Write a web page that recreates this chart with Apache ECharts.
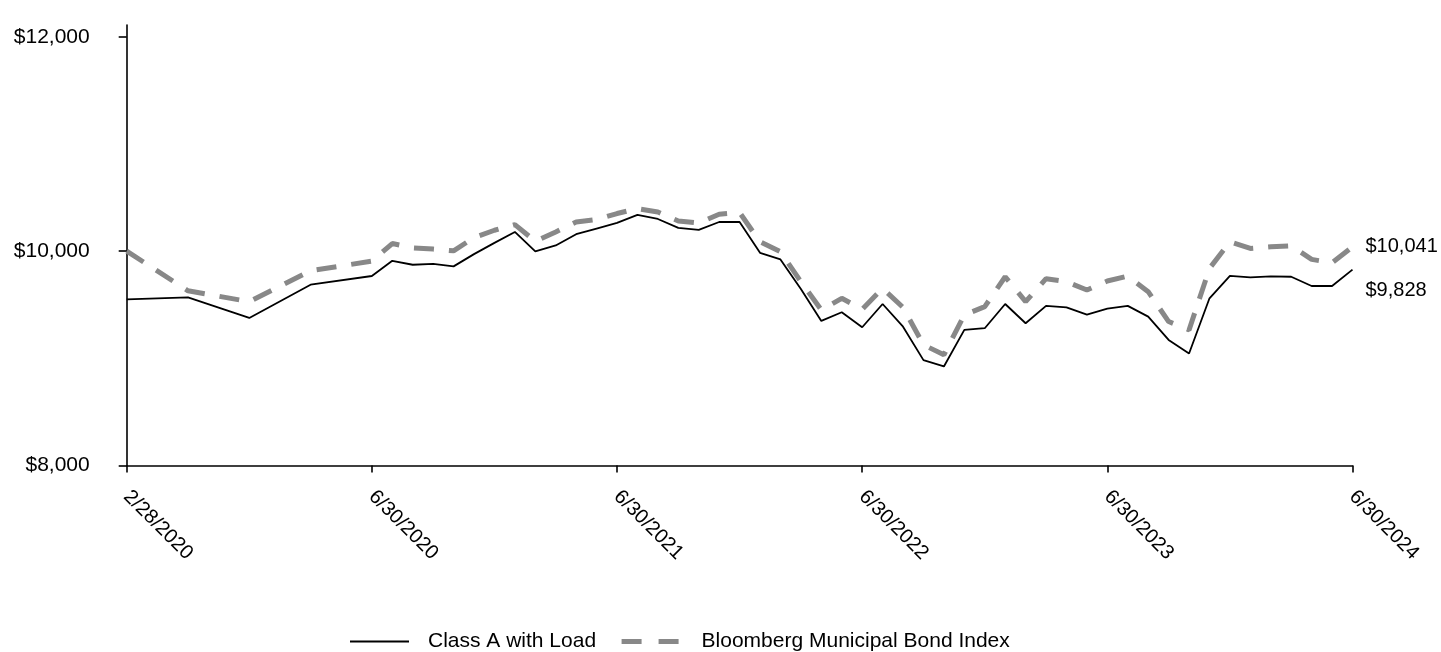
<!DOCTYPE html>
<html>
<head>
<meta charset="utf-8">
<script src="https://cdn.jsdelivr.net/npm/echarts@6/dist/echarts.min.js"></script>
<style>
  html, body { margin: 0; padding: 0; background: #fff; }
  #chart { width: 1441px; height: 652px; }
</style>
</head>
<body>
<div id="chart"></div>
<script>
// ---- data ----
const tickLabels = ['2/28/2020', '6/30/2020', '6/30/2021', '6/30/2022', '6/30/2023', '6/30/2024'];
const startMonth = '2020-02';
const endMonth = '2024-06';
const seriesNames = ['Class A with Load', 'Bloomberg Municipal Bond Index'];
const classA = [
  9550, 9569, 9377, 9687, 9768,
  9910, 9873, 9882, 9858, 9972, 10077, 10179, 9997, 10053, 10158, 10211, 10263,
  10338, 10300, 10217, 10198, 10272, 10272, 9984, 9923, 9647, 9349, 9430, 9290,
  9507, 9295, 8983, 8924, 9265, 9281, 9507, 9327, 9489, 9476, 9408, 9463,
  9489, 9389, 9172, 9045, 9560, 9770, 9755, 9765, 9761, 9675, 9675, 9828
];
const muniIndex = [
  10000, 9630, 9529, 9817, 9907,
  10071, 10031, 10019, 10003, 10127, 10195, 10248, 10093, 10179, 10272, 10295, 10351,
  10397, 10365, 10282, 10263, 10344, 10360, 10087, 9994, 9715, 9451, 9560, 9458,
  9653, 9475, 9126, 9033, 9405, 9482, 9761, 9529, 9743, 9715, 9637, 9721,
  9767, 9622, 9343, 9265, 9839, 10087, 10025, 10040, 10050, 9923, 9891, 10041
];
const yTicks = [8000, 10000, 12000];

// ---- helpers ----
function monthNum(s) { const p = s.split('-'); return (+p[0]) * 12 + (+p[1] - 1); }
function labelMonth(l) { const p = l.split('/'); return (+p[2]) * 12 + (+p[0] - 1); }
const tickM = tickLabels.map(labelMonth);
const m0 = monthNum(startMonth), m1 = monthNum(endMonth);
const monthsIdx = [];
for (let m = m0; m <= m1; m++) monthsIdx.push(m);
// place a month on the axis: ticks are equally spaced, months spread evenly between ticks
function xPos(m) {
  for (let i = 0; i < tickM.length - 1; i++) {
    if (m >= tickM[i] && m <= tickM[i + 1]) return i + (m - tickM[i]) / (tickM[i + 1] - tickM[i]);
  }
  return tickM.length - 1;
}
const fmt = v => '$' + Math.round(v).toLocaleString('en-US');
const font = 'Liberation Sans, Arial, Helvetica, sans-serif';

const chart = echarts.init(document.getElementById('chart'), null, { renderer: 'canvas' });
chart.setOption({
  animation: false,
  backgroundColor: '#ffffff',
  textStyle: { fontFamily: font },
  grid: { left: 126.7, right: 88.5, top: 25, bottom: 186.5, containLabel: false, outerBoundsMode: 'none' },
  legend: {
    left: 349,
    top: 631,
    padding: 0,
    itemWidth: 59,
    itemHeight: 14,
    itemGap: 23,
    textStyle: { fontSize: 21, color: '#000', fontFamily: font },
    itemStyle: { opacity: 0 },
    data: [
      { name: seriesNames[0], textStyle: { padding: [0, 0, 0, 14] }, lineStyle: { width: 2, color: '#000' } },
      { name: seriesNames[1], textStyle: { padding: [0, 0, 0, 16] }, lineStyle: { width: 5, color: '#888888', type: [20, 17] } }
    ]
  },
  xAxis: {
    type: 'value',
    min: 0,
    max: tickLabels.length - 1,
    interval: 1,
    splitLine: { show: false },
    axisLine: { show: true, lineStyle: { color: '#000', width: 1.6 } },
    axisTick: { show: true, inside: false, length: 7, lineStyle: { color: '#000', width: 1.6 } },
    axisLabel: {
      rotate: -45,
      margin: 28,
      fontSize: 20,
      color: '#000',
      fontFamily: font,
      showMinLabel: true,
      showMaxLabel: true,
      formatter: v => tickLabels[Math.round(v)] || ''
    }
  },
  yAxis: {
    type: 'value',
    min: 8000,
    max: 12110,
    splitLine: { show: false },
    axisLine: { show: true, lineStyle: { color: '#000', width: 1.6 } },
    axisTick: { show: true, inside: false, length: 8, customValues: yTicks, lineStyle: { color: '#000', width: 1.6 } },
    axisLabel: {
      margin: 37,
      fontSize: 21,
      color: '#000',
      fontFamily: font,
      customValues: yTicks,
      formatter: v => fmt(v)
    }
  },
  series: [
    {
      name: seriesNames[0],
      type: 'line',
      symbol: 'none',
      data: monthsIdx.map((m, i) => [xPos(m), classA[i]]),
      lineStyle: { color: '#000', width: 1.8 },
      itemStyle: { color: '#000' },
      endLabel: {
        show: true,
        distance: 13,
        offset: [0, 21],
        fontSize: 20,
        color: '#000',
        fontFamily: font,
        formatter: p => fmt(p.value[1])
      },
      z: 3
    },
    {
      name: seriesNames[1],
      type: 'line',
      symbol: 'none',
      data: monthsIdx.map((m, i) => [xPos(m), muniIndex[i]]),
      lineStyle: { color: '#888888', width: 5, type: [20, 15], cap: 'butt' },
      itemStyle: { color: '#888888' },
      endLabel: {
        show: true,
        distance: 13,
        fontSize: 20,
        color: '#000',
        fontFamily: font,
        formatter: p => fmt(p.value[1])
      },
      z: 2
    }
  ]
});
</script>
</body>
</html>
